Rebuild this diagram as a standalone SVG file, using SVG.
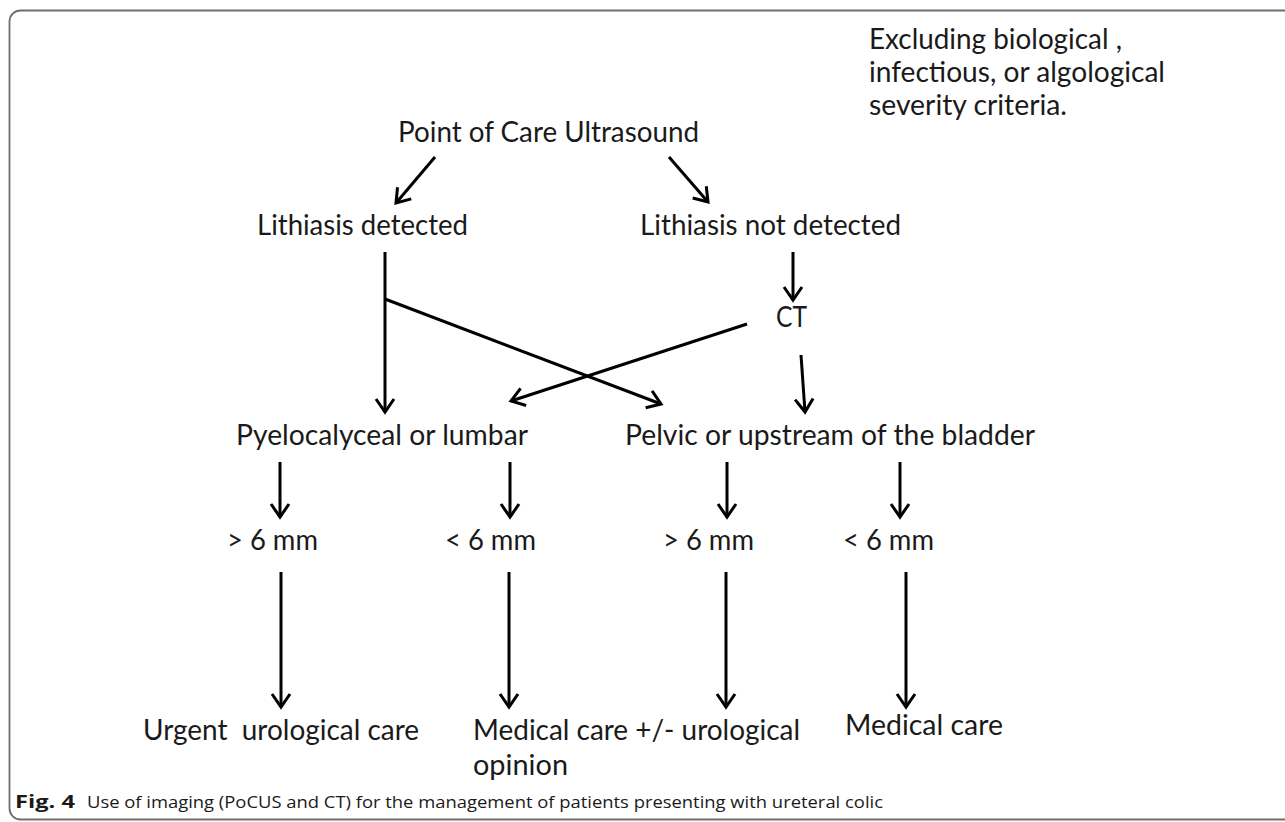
<svg xmlns="http://www.w3.org/2000/svg" width="1285" height="822" viewBox="0 0 1285 822">
<defs>
<style>
.t{font-family:Lato,"Open Sans","Liberation Sans",sans-serif;font-size:28px;fill:#1a1a1a}
.cap{font-family:"Open Sans","Liberation Sans",sans-serif;font-size:17px;fill:#1a1a1a}
.c{stroke:#000;stroke-width:3;fill:none;marker-end:url(#ah)}
.p{stroke:#000;stroke-width:3;fill:none}
</style>
<marker id="ah" markerUnits="userSpaceOnUse" viewBox="-16 -12 20 24" refX="0" refY="0" markerWidth="20" markerHeight="24" orient="auto">
<path d="M-13,-9 L0,0 L-13,9" fill="none" stroke="#000" stroke-width="3" stroke-linejoin="miter"/>
</marker>
</defs>
<rect x="9.5" y="10.5" width="1300" height="809" rx="11" fill="#fff" stroke="#6e6e6e" stroke-width="1.8"/>
<g id="note"><text class="t" x="869" y="49" textLength="253" lengthAdjust="spacingAndGlyphs">Excluding biological ,</text><text class="t" x="869" y="82" textLength="296" lengthAdjust="spacingAndGlyphs">infectious, or algological</text><text class="t" x="869" y="115" textLength="198" lengthAdjust="spacingAndGlyphs">severity criteria.</text></g>
<g id="n-pocus"><text class="t" x="398" y="142" textLength="301" lengthAdjust="spacingAndGlyphs">Point of Care Ultrasound</text></g>
<g id="n-det"><text class="t" x="257" y="235" textLength="211" lengthAdjust="spacingAndGlyphs">Lithiasis detected</text></g>
<g id="n-notdet"><text class="t" x="640" y="235" textLength="261" lengthAdjust="spacingAndGlyphs">Lithiasis not detected</text></g>
<g id="n-ct"><text class="t" x="776" y="327" textLength="31" lengthAdjust="spacingAndGlyphs">CT</text></g>
<g id="n-pyelo"><text class="t" x="236" y="445" textLength="292" lengthAdjust="spacingAndGlyphs">Pyelocalyceal or lumbar</text></g>
<g id="n-pelvic"><text class="t" x="625" y="445" textLength="410" lengthAdjust="spacingAndGlyphs">Pelvic or upstream of the bladder</text></g>
<g id="n-gt1"><text class="t" x="227" y="550" textLength="91" lengthAdjust="spacingAndGlyphs">&gt; 6 mm</text></g>
<g id="n-lt1"><text class="t" x="445" y="550" textLength="91" lengthAdjust="spacingAndGlyphs">&lt; 6 mm</text></g>
<g id="n-gt2"><text class="t" x="663" y="550" textLength="91" lengthAdjust="spacingAndGlyphs">&gt; 6 mm</text></g>
<g id="n-lt2"><text class="t" x="843" y="550" textLength="91" lengthAdjust="spacingAndGlyphs">&lt; 6 mm</text></g>
<g id="n-urgent"><text class="t" x="143" y="740" textLength="276" lengthAdjust="spacingAndGlyphs" xml:space="preserve">Urgent  urological care</text></g>
<g id="n-medop"><text class="t" x="473" y="740" textLength="327" lengthAdjust="spacingAndGlyphs">Medical care +/- urological</text><text class="t" x="473" y="775" textLength="95" lengthAdjust="spacingAndGlyphs">opinion</text></g>
<g id="n-med"><text class="t" x="845" y="735" textLength="158" lengthAdjust="spacingAndGlyphs">Medical care</text></g>
<g id="connectors">
<line class="c" x1="435" y1="157" x2="396" y2="203"/>
<line class="c" x1="669" y1="157" x2="708" y2="202"/>
<line class="c" x1="793" y1="252" x2="793" y2="300"/>
<line class="c" x1="385" y1="252" x2="385" y2="412"/>
<line class="c" x1="385" y1="299" x2="661" y2="404"/>
<line class="c" x1="747" y1="324" x2="511" y2="401"/>
<line class="c" x1="801" y1="355" x2="805" y2="412"/>
<line class="c" x1="280" y1="462" x2="280" y2="517"/>
<line class="c" x1="510" y1="462" x2="510" y2="517"/>
<line class="c" x1="727" y1="462" x2="727" y2="517"/>
<line class="c" x1="900" y1="462" x2="900" y2="517"/>
<line class="c" x1="281" y1="572" x2="281" y2="707"/>
<line class="c" x1="509" y1="572" x2="509" y2="707"/>
<line class="c" x1="726" y1="572" x2="726" y2="707"/>
<line class="c" x1="906" y1="572" x2="906" y2="707"/>
</g>
<g id="caption"><text class="cap" x="15" y="808" font-weight="bold" textLength="60" lengthAdjust="spacingAndGlyphs">Fig. 4</text><text class="cap" x="87" y="808" textLength="796" lengthAdjust="spacingAndGlyphs">Use of imaging (PoCUS and CT) for the management of patients presenting with ureteral colic</text></g>
</svg>
